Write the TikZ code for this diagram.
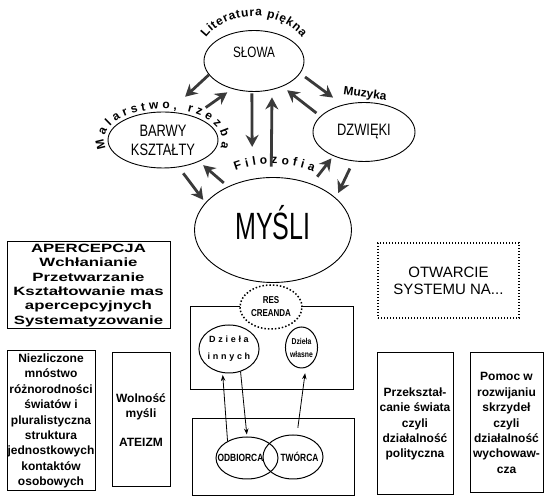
\documentclass[tikz,border=0pt]{standalone}
\usepackage{fontspec}
\setmainfont{Liberation Sans}
\newfontfamily\cndfont[FakeStretch=0.78]{Liberation Sans}
\newfontfamily\bigfont[FakeStretch=0.66]{Liberation Sans}
\newfontfamily\widefont[FakeStretch=1.4]{Liberation Sans}
\newfontfamily\tallfont[FakeStretch=0.8]{Liberation Sans}
\newcommand\curvefont{\fontsize{12}{14}\selectfont\bfseries}
\usetikzlibrary{arrows.meta,shapes.geometric,decorations.text}
\definecolor{arrgray}{HTML}{3a3a3a}

\begin{document}
\begin{tikzpicture}[x=1pt,y=1pt,
	oval/.style={draw,ellipse,line width=0.9pt,inner sep=0pt},
	thick arr/.style={draw=arrgray,line width=2.8pt,-{Stealth[length=12pt,width=13pt,inset=4pt]}},
	thin arr/.style={line width=0.8pt,-{Stealth[length=6pt,width=4.5pt]}},
	box/.style={draw,line width=1pt,inner sep=0pt,align=center,font=\fontsize{12}{15.4}\selectfont\bfseries},
	curved/.style={decorate,decoration={text along path,text align={fit to path},text={#1}}}]
				\useasboundingbox (0,0) rectangle (550,500);
				% upper part
				\node[oval,minimum width=100pt,minimum height=61pt,text depth=18pt,font=\cndfont\fontsize{15}{18}\selectfont] (slowa) at (254,439) {SŁOWA};
				\node[oval,minimum width=110pt,minimum height=56pt,align=center,font=\cndfont\fontsize{16.5}{19}\selectfont] (barwy) at (163,360) {BARWY\\KSZTAŁTY};
				\node[oval,minimum width=102pt,minimum height=59pt,font=\cndfont\fontsize{16.5}{19}\selectfont] (dzwieki) at (364,368) {DZWIĘKI};
				\node[oval,minimum width=157pt,minimum height=105pt,text depth=16pt,font=\bigfont\fontsize{38}{40}\selectfont] (mysli) at (273,270) {MYŚLI};
				\path[curved={|\curvefont|Literatura piękna}] ([shift={(149:56pt and 45pt)}]slowa.center) arc[start angle=149,end angle=31,x radius=56pt,y radius=45pt];
				\path[curved={|\curvefont|Malarstwo, rzezba}] ([shift={(196:59pt and 31pt)}]barwy.center) arc[start angle=196,end angle=-14,x radius=59pt,y radius=31pt];
				\path[curved={|\curvefont|Filozofia}] ([shift={(116:86pt and 66pt)}]mysli.center) arc[start angle=116,end angle=62,x radius=86pt,y radius=66pt];
				\node[font=\curvefont,rotate=-8] (muzyka) at (365,406) {Muzyka};
				\draw[thick arr,shorten >=22pt] (slowa.197) -- (barwy.78);
				\draw[thick arr,shorten <=15pt,shorten >=6pt] (barwy.38) -- (slowa.232);
				\draw[thick arr,shorten <=1.5pt,shorten >=32pt] (slowa.266) -- (mysli.112);
				\draw[thick arr,shorten <=10.5pt,shorten >=7.5pt] (mysli.92) -- (slowa.302);
				\draw[thick arr,shorten <=5pt,shorten >=6pt] (dzwieki.160) -- (slowa.318);
				\draw[thick arr,shorten <=6pt,shorten >=12pt] (slowa.345) -- (dzwieki.128);
				\draw[thick arr,shorten <=7.5pt,shorten >=3.5pt] (barwy.300) -- (mysli.158);
				\draw[thick arr,shorten <=5.5pt,shorten >=5.5pt] (mysli.136) -- (barwy.329);
				\draw[thick arr,shorten <=9pt,shorten >=3pt] (mysli.50) -- (dzwieki.218);
				\draw[thick arr,shorten <=8pt,shorten >=5.5pt] (dzwieki.250) -- (mysli.27);
				% lower part
				\node[box,minimum width=163pt,minimum height=87pt,font=\widefont\fontsize{12}{14.3}\selectfont\bfseries] (apercepcja) at (88.5,214.5) {APERCEPCJA\\Wchłanianie\\Przetwarzanie\\Kształtowanie mas\\apercepcyjnych\\Systematyzowanie};
				\node[box,dotted,line width=1.6pt,minimum width=141pt,minimum height=75pt,font=\fontsize{15}{17}\selectfont] (otwarcie) at (448.5,219.5) {OTWARCIE\\SYSTEMU NA...};
				\node[draw,line width=1pt,minimum width=163pt,minimum height=83pt] (dziela) at (271.5,151.5) {};
				\node[draw,ellipse,dotted,line width=1.5pt,fill=white,minimum width=62pt,minimum height=44pt,inner sep=0pt,align=center,font=\tallfont\fontsize{10}{13}\selectfont\bfseries] (res) at (271,193) {RES\\CREANDA};
				\node[draw,ellipse,line width=1pt,minimum width=52pt,minimum height=48pt,inner sep=0pt,align=center,font=\fontsize{9}{17}\selectfont\bfseries\addfontfeature{LetterSpace=30}] (innych) at (229,151) {Dzieła\\innych};
				\node[draw,ellipse,line width=1pt,minimum width=31pt,minimum height=41pt,inner sep=0pt,align=center,font=\tallfont\fontsize{8.5}{13}\selectfont\bfseries] (wlasne) at (301.5,152.5) {Dzieła\\własne};
				\node[draw,line width=1pt,minimum width=162pt,minimum height=77pt] (tworzenie) at (273,42.5) {};
				\node[draw,ellipse,line width=1pt,minimum width=62pt,minimum height=42pt,inner sep=0pt,inner xsep=-10pt,font=\tallfont\fontsize{10.5}{12}\selectfont\bfseries] (odbiorca) at (247,42) {ODBIORCA\hspace*{13pt}};
				\node[draw,ellipse,line width=1pt,minimum width=60pt,minimum height=44pt,inner sep=0pt,inner xsep=-8pt,font=\tallfont\fontsize{10.5}{12}\selectfont\bfseries] (tworca) at (293,43) {\hspace*{13pt}TWÓRCA};
				\draw[thin arr,shorten >=2pt] (odbiorca.139) -- (innych.255);
				\draw[thin arr,shorten >=2pt] (innych.297) -- (odbiorca.90);
				\draw[thin arr,shorten <=7pt,shorten >=5.5pt] (tworca.80) -- (wlasne.282);
				\node[box,minimum width=88pt,minimum height=140pt] (niezliczone) at (51,79) {Niezliczone\\mnóstwo\\różnorodności\\światów i\\pluralistyczna\\struktura\\jednostkowych\\kontaktów\\osobowych};
				\node[box,minimum width=58pt,minimum height=134pt] (wolnosc) at (141,80) {Wolność\\myśli\\[13pt]ATEIZM};
				\node[box,minimum width=76pt,minimum height=142pt] (przeksztalcanie) at (415,76) {Przekształ-\\canie świata\\czyli\\działalność\\polityczna};
				\node[box,minimum width=73pt,minimum height=140pt] (pomoc) at (506.5,77) {Pomoc w\\rozwijaniu\\skrzydeł\\czyli\\działalność\\wychowaw-\\cza};
			\end{tikzpicture}
\end{document}
